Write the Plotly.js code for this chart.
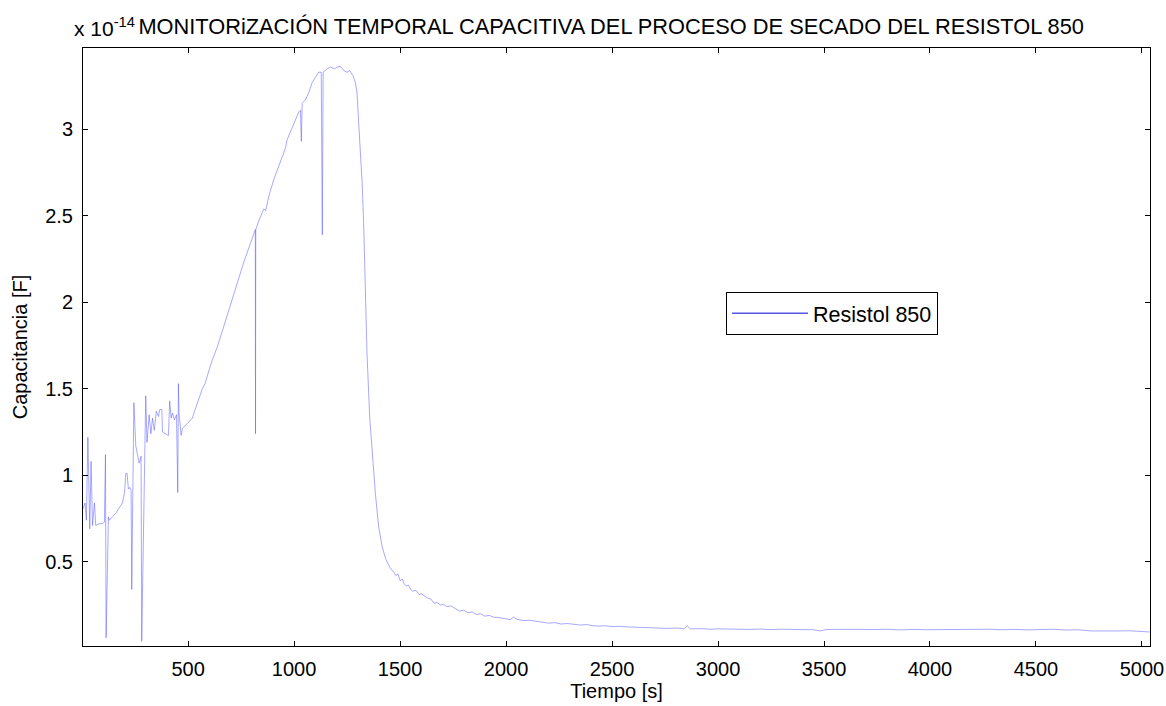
<!DOCTYPE html>
<html>
<head>
<meta charset="utf-8">
<script src="https://cdn.plot.ly/plotly-3.0.1.min.js"></script>
<style>html,body{margin:0;padding:0;background:#fff}#chart{width:1166px;height:706px}</style>
</head>
<body>
<div id="chart"></div>
<script>
// Tiempo [s]
const tiempo = [
2,14,20,27,36,42,49,58,64,80,96,105,110,113,124,127,143,159,174,190,200,206,212,218,225,231,234,244,253,263,269,278,281,
300,306,316,324,332,340,350,360,366,376,379,395,407,413,420,426,435,445,451,454,457,467,473,489,505,520,530,544,555,567,580,591,604,615,
637,668,700,731,762,794,812,817,818,819,833,857,866,880,904,927,959,967,998,1022,1030,1034,1038,1053,1069,1085,1100,1116,1128,1133,1137,
1156,1171,1190,1205,1218,1234,1250,1262,1278,1289,1297,1305,1313,1321,1328,1335,1344,1357,1369,1383,1399,1415,1431,1450,1470,1480,1490,
1500,1510,1520,1530,1540,1550,1560,1575,1590,1600,1615,1630,1645,1660,1675,1690,1705,1720,1740,1760,1780,1800,1820,1840,1860,1880,1900,
1920,1940,1960,1980,2000,2020,2035,2050,2080,2110,2140,2170,2200,2230,2260,2290,2320,2350,2380,2410,2440,2470,2500,2530,2560,2600,2640,
2680,2720,2760,2800,2840,2855,2870,2920,2960,3000,3050,3100,3150,3200,3250,3300,3350,3400,3450,3480,3510,3560,3620,3680,3740,3800,3860,
3920,3980,4040,4100,4160,4220,4280,4340,4400,4460,4520,4580,4640,4700,4760,4820,4880,4940,4990,5038
];
// Capacitancia [F] (x 10^-14)
const capacitancia = [
0.80,0.84,0.74,1.22,0.69,1.08,0.71,0.84,0.71,0.72,0.72,0.73,1.12,0.06,0.76,0.74,0.76,0.78,0.81,0.84,0.90,1.01,1.01,0.92,0.93,0.91,0.34,1.42,1.17,1.11,1.07,1.11,0.04,
1.46,1.19,1.35,1.24,1.33,1.26,1.37,1.34,1.38,1.38,1.25,1.24,1.23,1.43,1.33,1.36,1.32,1.35,0.90,1.53,1.36,1.23,1.27,1.29,1.31,1.33,1.37,1.42,1.47,1.50,1.53,1.58,1.63,1.67,
1.74,1.86,1.99,2.11,2.23,2.34,2.40,2.42,1.24,2.42,2.47,2.54,2.53,2.61,2.71,2.79,2.89,2.94,3.03,3.10,3.11,2.93,3.15,3.17,3.21,3.27,3.30,3.33,3.33,2.39,3.33,
3.35,3.36,3.35,3.36,3.365,3.34,3.33,3.34,3.31,3.27,3.21,3.03,2.86,2.69,2.46,2.10,1.70,1.33,1.12,0.90,0.70,0.59,0.52,0.47,0.44,0.42,0.43,
0.39,0.40,0.37,0.36,0.365,0.34,0.33,0.335,0.31,0.315,0.30,0.29,0.285,0.26,0.265,0.25,0.255,0.24,0.245,0.23,0.215,0.22,0.205,0.21,0.195,0.20,0.185,
0.19,0.18,0.178,0.172,0.17,0.165,0.18,0.168,0.16,0.162,0.155,0.15,0.145,0.148,0.14,0.143,0.138,0.134,0.137,0.13,0.128,0.13,0.125,0.127,0.124,0.122,0.12,
0.121,0.118,0.115,0.117,0.113,0.13,0.112,0.113,0.11,0.112,0.11,0.111,0.109,0.111,0.108,0.11,0.108,0.109,0.107,0.10,0.108,0.109,0.107,0.109,0.108,0.110,0.106,
0.109,0.107,0.108,0.106,0.109,0.108,0.11,0.107,0.109,0.106,0.108,0.11,0.105,0.107,0.10,0.102,0.10,0.101,0.099,0.094
];
const xTicks = [500,1000,1500,2000,2500,3000,3500,4000,4500,5000];
const yTicks = [0.5,1,1.5,2,2.5,3];
const yTickText = ['0.5','1','1.5','2','2.5','3'];
const serieNombre = 'Resistol 850';
const titulo = 'MONITORiZACIÓN TEMPORAL CAPACITIVA DEL PROCESO DE SECADO DEL RESISTOL 850';

const font = {family: 'Liberation Sans, Arial, sans-serif', size: 20, color: '#000'};

const traces = [
  {x: tiempo, y: capacitancia, type: 'scatter', mode: 'lines', showlegend: false,
   line: {color: 'rgb(80,80,255)', width: 0.5}, hoverinfo: 'skip'},
  {x: [null], y: [null], type: 'scatter', mode: 'lines', name: serieNombre,
   line: {color: 'rgb(0,0,220)', width: 1}}
];

const axisCommon = {
  showline: true, mirror: 'ticks', linecolor: '#000', linewidth: 1,
  ticks: 'inside', ticklen: 5, tickcolor: '#000', tickwidth: 1,
  showgrid: false, zeroline: false, tickfont: font, automargin: false,
  ticklabelstandoff: 5
};

const layout = {
  width: 1166, height: 706,
  paper_bgcolor: '#fff', plot_bgcolor: '#fff',
  margin: {l: 83, r: 16, t: 48, b: 60},
  font: font,
  title: {text: titulo, font: {family: font.family, size: 21.8, color: '#000'},
          x: 0.495, xref: 'paper', xanchor: 'center', y: 0.962, yanchor: 'middle'},
  xaxis: Object.assign({}, axisCommon, {
    range: [4, 5038], tickvals: xTicks, ticktext: xTicks.map(String),
    title: {text: 'Tiempo [s]', font: font, standoff: 4}
  }),
  yaxis: Object.assign({}, axisCommon, {
    range: [0.013, 3.47], tickvals: yTicks, ticktext: yTickText,
    title: {text: 'Capacitancia [F]', font: font, standoff: 12}
  }),
  showlegend: true,
  legend: {x: 0.6026, y: 0.5925, xanchor: 'left', yanchor: 'top',
           bgcolor: '#fff', bordercolor: '#000', borderwidth: 1,
           font: {family: font.family, size: 21.5, color: '#000'}, itemwidth: 76},
  annotations: [
    {text: 'x 10<sup>-14</sup>', xref: 'paper', yref: 'paper', x: -0.010, y: 1.035,
     xanchor: 'left', yanchor: 'middle', showarrow: false, font: {family: font.family, size: 21, color: '#000'}}
  ]
};

Plotly.newPlot('chart', traces, layout, {displayModeBar: false, staticPlot: true});
</script>
</body>
</html>
